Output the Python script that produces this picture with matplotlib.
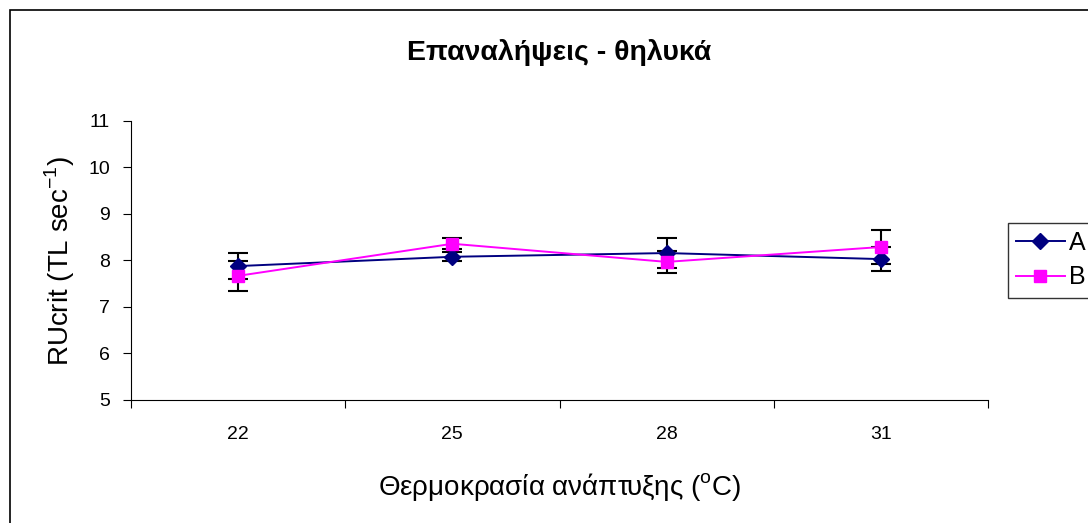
import numpy as np
import matplotlib.pyplot as plt
from matplotlib.patches import Rectangle
from matplotlib.lines import Line2D

plt.rcParams['font.family'] = ['Liberation Sans', 'DejaVu Sans']

temps = ["22", "25", "28", "31"]
a_vals = [7.88, 8.08, 8.16, 8.03]
a_err = [0.28, 0.10, 0.32, 0.26]
b_vals = [7.67, 8.36, 7.97, 8.29]
b_err = [0.32, 0.12, 0.24, 0.37]

x = np.arange(len(temps))

fig = plt.figure(figsize=(10.88, 5.23), dpi=100)
ax = fig.add_axes([131 / 1088, 1 - 400 / 523, 857 / 1088, 279 / 523])

navy = "#000080"
pink = "#FF00FF"

# error bars first (black), then lines with markers
ax.errorbar(x, a_vals, yerr=a_err, fmt="none", ecolor="black", elinewidth=1.5,
            capsize=7, capthick=1.5, zorder=2)
ax.errorbar(x, b_vals, yerr=b_err, fmt="none", ecolor="black", elinewidth=1.5,
            capsize=7, capthick=1.5, zorder=2)
ax.plot(x, a_vals, color=navy, marker="D", markersize=8, lw=1.4, zorder=3)
ax.plot(x, b_vals, color=pink, marker="s", markersize=8, lw=1.4, zorder=3)

ax.set_xlim(-0.5, len(temps) - 0.5)
ax.set_ylim(5, 11)
ax.set_yticks(range(5, 12))
ax.set_xticks(np.arange(-0.5, len(temps), 1.0))
ax.set_xticklabels([])
ax.set_xticks(x, minor=True)
ax.set_xticklabels(temps, minor=True)
ax.tick_params(axis="x", which="minor", length=0, pad=19, labelsize=14)
ax.tick_params(axis="x", which="major", length=6, direction="out")
ax.tick_params(axis="y", length=6, direction="out", labelsize=14, pad=9)
ax.spines["top"].set_visible(False)
ax.spines["right"].set_visible(False)

ax.set_title("Επαναλήψεις - θηλυκά", fontsize=20.5, fontweight="bold", pad=44)
ax.set_ylabel("RUcrit (TL sec$^{\\mathregular{-1}}$)", fontsize=20, labelpad=8)
ax.set_xlabel("Θερμοκρασία ανάπτυξης ($^{\\mathregular{o}}$C)", fontsize=20, labelpad=20)

handles = [
    Line2D([], [], color=navy, marker="D", markersize=8, lw=1.4),
    Line2D([], [], color=pink, marker="s", markersize=8, lw=1.4),
]
leg = ax.legend(handles, ["A", "B"], loc="upper left",
                bbox_to_anchor=(1008 / 1088, 1 - 223 / 523),
                bbox_transform=fig.transFigure, fontsize=18, frameon=True,
                fancybox=False, edgecolor="black", borderaxespad=0,
                handlelength=1.95, handletextpad=0.16, labelspacing=0.42,
                borderpad=0.32)
leg.get_frame().set_linewidth(1.0)

fig.add_artist(Rectangle((10 / 1088, -0.1), 1.2, 1.1 - 10 / 523,
                         transform=fig.transFigure, fill=False,
                         edgecolor="black", lw=1.2))

fig.savefig("out.png", dpi=100)
